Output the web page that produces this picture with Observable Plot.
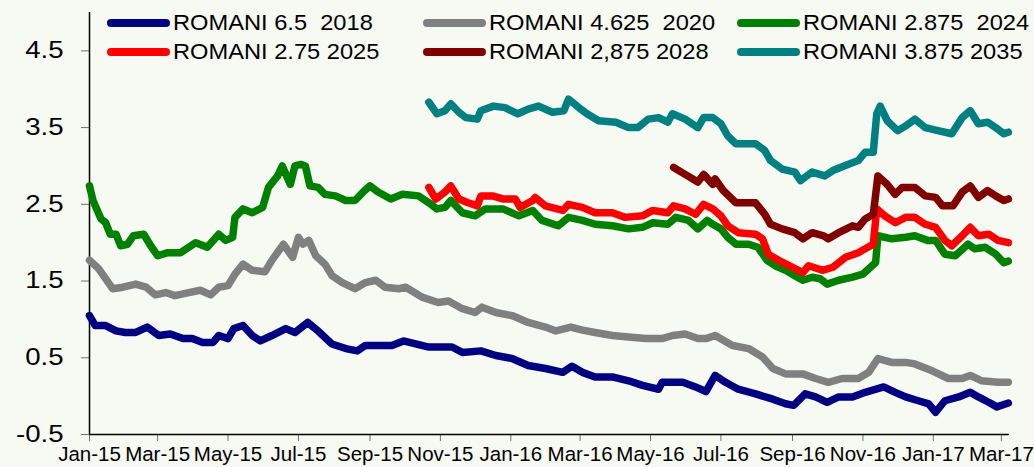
<!DOCTYPE html>
<html>
<head>
<meta charset="utf-8">
<script src="https://cdn.jsdelivr.net/npm/d3@7"></script>
<script src="https://cdn.jsdelivr.net/npm/@observablehq/plot@0.6"></script>
<style>
  html, body { margin: 0; padding: 0; background: #f7f9f3; }
  #wrap { position: relative; width: 1034px; height: 467px; font-family: "Liberation Sans", Arial, sans-serif; }
  #legend { position: absolute; left: 0; top: 0; width: 1034px; height: 70px; pointer-events: none; }
  .item { position: absolute; height: 28px; display: flex; align-items: center; }
  .sw { width: 63px; height: 8px; border-radius: 4px; }
  .lab { display: inline-block; margin-left: 3px; font-size: 21.5px; white-space: pre; color: #000;
         transform: scaleX(1.1); transform-origin: left center; }
</style>
</head>
<body>
<div id="wrap"><div id="legend"></div></div>
<script>
// ---- data ----
const seriesNames = ["ROMANI 6.5  2018", "ROMANI 4.625  2020", "ROMANI 2.875  2024",
                     "ROMANI 2.75 2025", "ROMANI 2,875 2028", "ROMANI 3.875 2035"];
const seriesColors = ["#000080", "#808080", "#008000", "#ff0000", "#800000", "#008080"];

const yTicks = [-0.5, 0.5, 1.5, 2.5, 3.5, 4.5];
const yDomain = [-0.5, 5];
const xDomain = ["2015-01-01", "2017-03-08"];
const xTicks = ["2015-01-01","2015-03-01","2015-05-01","2015-07-01","2015-09-01","2015-11-01",
                "2016-01-01","2016-03-01","2016-05-01","2016-07-01","2016-09-01","2016-11-01",
                "2017-01-01","2017-03-01"];

const ro2018 = [["2015-01-01",1.05],["2015-01-06",0.92],["2015-01-15",0.92],["2015-01-24",0.85],["2015-02-01",0.83],["2015-02-10",0.83],["2015-02-20",0.90],["2015-03-02",0.79],["2015-03-12",0.81],["2015-03-23",0.75],["2015-03-31",0.75],["2015-04-09",0.70],["2015-04-18",0.70],["2015-04-23",0.79],["2015-05-01",0.75],["2015-05-06",0.88],["2015-05-14",0.92],["2015-05-22",0.79],["2015-05-29",0.72],["2015-06-08",0.79],["2015-06-20",0.88],["2015-06-28",0.83],["2015-07-09",0.96],["2015-07-18",0.85],["2015-07-30",0.68],["2015-08-11",0.62],["2015-08-21",0.59],["2015-08-28",0.66],["2015-09-08",0.66],["2015-09-20",0.66],["2015-09-30",0.72],["2015-10-22",0.64],["2015-11-11",0.64],["2015-11-20",0.57],["2015-12-06",0.59],["2015-12-19",0.53],["2016-01-02",0.49],["2016-01-16",0.40],["2016-01-31",0.36],["2016-02-15",0.31],["2016-02-23",0.39],["2016-03-03",0.31],["2016-03-14",0.25],["2016-03-29",0.25],["2016-04-12",0.20],["2016-04-24",0.14],["2016-05-08",0.09],["2016-05-11",0.18],["2016-05-29",0.18],["2016-06-09",0.12],["2016-06-18",0.06],["2016-06-26",0.27],["2016-07-05",0.18],["2016-07-16",0.09],["2016-07-31",0.03],["2016-08-15",-0.04],["2016-08-26",-0.10],["2016-09-02",-0.12],["2016-09-12",0.03],["2016-09-21",-0.01],["2016-10-01",-0.08],["2016-10-11",-0.01],["2016-10-23",-0.01],["2016-11-03",0.05],["2016-11-19",0.12],["2016-11-29",0.05],["2016-12-08",-0.01],["2016-12-19",-0.06],["2016-12-28",-0.10],["2017-01-03",-0.21],["2017-01-11",-0.06],["2017-01-23",-0.01],["2017-02-02",0.05],["2017-02-09",-0.01],["2017-02-18",-0.08],["2017-02-25",-0.14],["2017-03-07",-0.09]];

const ro2020 = [["2015-01-01",1.77],["2015-01-09",1.66],["2015-01-21",1.40],["2015-01-30",1.42],["2015-02-10",1.46],["2015-02-19",1.42],["2015-02-27",1.32],["2015-03-08",1.35],["2015-03-16",1.31],["2015-03-28",1.35],["2015-04-07",1.38],["2015-04-16",1.32],["2015-04-23",1.42],["2015-05-01",1.44],["2015-05-07",1.59],["2015-05-14",1.72],["2015-05-22",1.64],["2015-06-02",1.62],["2015-06-08",1.77],["2015-06-18",1.98],["2015-06-26",1.81],["2015-07-01",2.07],["2015-07-05",1.98],["2015-07-10",2.03],["2015-07-16",1.83],["2015-07-24",1.72],["2015-07-30",1.57],["2015-08-08",1.48],["2015-08-19",1.40],["2015-08-28",1.48],["2015-09-06",1.51],["2015-09-14",1.42],["2015-09-26",1.40],["2015-10-02",1.42],["2015-10-16",1.29],["2015-10-30",1.22],["2015-11-08",1.24],["2015-11-20",1.14],["2015-12-01",1.09],["2015-12-07",1.16],["2015-12-19",1.09],["2016-01-02",1.05],["2016-01-16",0.96],["2016-01-31",0.90],["2016-02-09",0.85],["2016-02-22",0.90],["2016-03-03",0.86],["2016-03-14",0.83],["2016-03-29",0.79],["2016-04-12",0.77],["2016-04-27",0.75],["2016-05-11",0.75],["2016-05-20",0.79],["2016-05-31",0.81],["2016-06-11",0.75],["2016-06-18",0.75],["2016-06-26",0.79],["2016-07-11",0.66],["2016-07-25",0.62],["2016-08-06",0.51],["2016-08-15",0.36],["2016-08-26",0.29],["2016-09-10",0.29],["2016-09-21",0.23],["2016-10-02",0.18],["2016-10-14",0.23],["2016-10-28",0.23],["2016-11-06",0.31],["2016-11-14",0.49],["2016-11-26",0.44],["2016-12-08",0.44],["2016-12-16",0.42],["2016-12-31",0.33],["2017-01-14",0.23],["2017-01-26",0.23],["2017-02-02",0.27],["2017-02-12",0.20],["2017-02-26",0.18],["2017-03-07",0.18]];

const ro2024 = [["2015-01-01",2.74],["2015-01-04",2.55],["2015-01-11",2.31],["2015-01-15",2.26],["2015-01-19",2.11],["2015-01-24",2.11],["2015-01-28",1.96],["2015-02-03",1.98],["2015-02-08",2.09],["2015-02-17",2.11],["2015-02-23",1.96],["2015-03-01",1.83],["2015-03-10",1.87],["2015-03-21",1.87],["2015-04-03",2.00],["2015-04-13",1.94],["2015-04-23",2.11],["2015-04-29",2.03],["2015-05-05",2.07],["2015-05-07",2.33],["2015-05-14",2.44],["2015-05-22",2.39],["2015-05-31",2.46],["2015-06-05",2.72],["2015-06-13",2.87],["2015-06-17",3.00],["2015-06-24",2.76],["2015-06-28",3.00],["2015-07-03",3.02],["2015-07-07",3.00],["2015-07-11",2.74],["2015-07-18",2.72],["2015-07-24",2.63],["2015-08-02",2.61],["2015-08-11",2.55],["2015-08-19",2.55],["2015-08-26",2.66],["2015-09-01",2.74],["2015-09-08",2.66],["2015-09-19",2.57],["2015-09-29",2.63],["2015-10-13",2.61],["2015-10-22",2.52],["2015-10-29",2.44],["2015-11-05",2.46],["2015-11-10",2.55],["2015-11-20",2.39],["2015-12-01",2.35],["2015-12-10",2.44],["2015-12-25",2.44],["2016-01-08",2.35],["2016-01-20",2.42],["2016-01-28",2.29],["2016-02-11",2.22],["2016-02-20",2.33],["2016-03-03",2.29],["2016-03-14",2.24],["2016-03-29",2.22],["2016-04-12",2.18],["2016-04-24",2.20],["2016-05-03",2.26],["2016-05-16",2.24],["2016-05-23",2.33],["2016-06-03",2.29],["2016-06-11",2.18],["2016-06-19",2.29],["2016-06-24",2.24],["2016-07-01",2.18],["2016-07-07",2.07],["2016-07-14",1.98],["2016-07-25",1.98],["2016-08-02",1.94],["2016-08-10",1.77],["2016-08-17",1.70],["2016-08-26",1.64],["2016-09-03",1.57],["2016-09-10",1.51],["2016-09-18",1.55],["2016-09-25",1.53],["2016-10-01",1.46],["2016-10-11",1.51],["2016-10-23",1.55],["2016-11-01",1.59],["2016-11-09",1.70],["2016-11-12",1.74],["2016-11-14",2.09],["2016-11-26",2.05],["2016-12-08",2.07],["2016-12-16",2.09],["2016-12-27",2.03],["2017-01-03",2.03],["2017-01-11",1.85],["2017-01-20",1.83],["2017-01-31",1.98],["2017-02-06",1.92],["2017-02-15",1.94],["2017-02-24",1.85],["2017-03-03",1.74],["2017-03-07",1.76]];

const ro2025 = [["2015-10-22",2.72],["2015-10-28",2.57],["2015-11-05",2.66],["2015-11-10",2.74],["2015-11-17",2.57],["2015-11-25",2.52],["2015-12-03",2.48],["2015-12-06",2.61],["2015-12-16",2.61],["2015-12-25",2.57],["2016-01-05",2.57],["2016-01-09",2.46],["2016-01-20",2.55],["2016-01-22",2.59],["2016-01-31",2.48],["2016-02-15",2.42],["2016-02-20",2.50],["2016-03-03",2.46],["2016-03-14",2.39],["2016-03-29",2.39],["2016-04-09",2.33],["2016-04-24",2.35],["2016-05-03",2.42],["2016-05-16",2.39],["2016-05-21",2.48],["2016-05-31",2.44],["2016-06-09",2.37],["2016-06-16",2.50],["2016-06-24",2.44],["2016-07-01",2.35],["2016-07-07",2.22],["2016-07-16",2.13],["2016-07-31",2.11],["2016-08-06",2.05],["2016-08-11",1.85],["2016-08-20",1.77],["2016-09-01",1.68],["2016-09-10",1.61],["2016-09-15",1.70],["2016-09-27",1.64],["2016-10-06",1.68],["2016-10-17",1.81],["2016-10-28",1.87],["2016-11-03",1.92],["2016-11-10",1.98],["2016-11-13",2.44],["2016-11-20",2.35],["2016-11-29",2.26],["2016-12-08",2.33],["2016-12-16",2.33],["2016-12-25",2.24],["2017-01-03",2.20],["2017-01-11",2.03],["2017-01-17",1.96],["2017-01-26",2.09],["2017-02-02",2.20],["2017-02-09",2.09],["2017-02-18",2.11],["2017-02-26",2.03],["2017-03-07",2.00]];

const ro2028 = [["2016-05-21",2.98],["2016-05-31",2.89],["2016-06-11",2.79],["2016-06-16",2.89],["2016-06-24",2.76],["2016-06-26",2.83],["2016-07-03",2.68],["2016-07-14",2.52],["2016-07-31",2.52],["2016-08-08",2.37],["2016-08-13",2.24],["2016-08-23",2.18],["2016-09-03",2.13],["2016-09-10",2.05],["2016-09-18",2.13],["2016-09-28",2.09],["2016-10-02",2.05],["2016-10-11",2.13],["2016-10-23",2.22],["2016-10-28",2.20],["2016-11-03",2.31],["2016-11-10",2.37],["2016-11-14",2.87],["2016-11-22",2.76],["2016-11-29",2.63],["2016-12-05",2.72],["2016-12-16",2.72],["2016-12-25",2.61],["2017-01-03",2.59],["2017-01-09",2.48],["2017-01-18",2.48],["2017-01-26",2.66],["2017-02-02",2.74],["2017-02-09",2.59],["2017-02-17",2.68],["2017-02-24",2.61],["2017-03-03",2.55],["2017-03-07",2.57]];

const ro2035 = [["2015-10-22",3.83],["2015-10-29",3.68],["2015-11-05",3.72],["2015-11-10",3.81],["2015-11-17",3.70],["2015-11-23",3.63],["2015-12-03",3.61],["2015-12-06",3.72],["2015-12-17",3.78],["2015-12-27",3.76],["2016-01-07",3.68],["2016-01-16",3.74],["2016-01-25",3.78],["2016-02-06",3.70],["2016-02-16",3.72],["2016-02-20",3.87],["2016-02-29",3.76],["2016-03-07",3.68],["2016-03-17",3.59],["2016-04-01",3.57],["2016-04-12",3.50],["2016-04-20",3.50],["2016-04-29",3.61],["2016-05-08",3.63],["2016-05-16",3.57],["2016-05-20",3.68],["2016-05-31",3.61],["2016-06-11",3.50],["2016-06-16",3.63],["2016-06-24",3.63],["2016-07-01",3.55],["2016-07-07",3.39],["2016-07-14",3.29],["2016-07-31",3.29],["2016-08-08",3.20],["2016-08-13",3.07],["2016-08-23",2.96],["2016-09-03",2.92],["2016-09-08",2.81],["2016-09-18",2.92],["2016-09-29",2.87],["2016-10-06",2.94],["2016-10-19",3.02],["2016-10-28",3.07],["2016-11-03",3.18],["2016-11-10",3.18],["2016-11-13",3.68],["2016-11-16",3.78],["2016-11-22",3.59],["2016-12-01",3.46],["2016-12-08",3.52],["2016-12-16",3.61],["2016-12-25",3.50],["2017-01-05",3.46],["2017-01-17",3.42],["2017-01-26",3.63],["2017-02-02",3.72],["2017-02-09",3.55],["2017-02-17",3.57],["2017-02-24",3.50],["2017-03-03",3.42],["2017-03-07",3.44]];

const seriesData = [ro2018, ro2020, ro2024, ro2025, ro2028, ro2035];

// ---- build table ----
const rows = [];
seriesData.forEach((arr, i) => {
  arr.forEach(([d, v]) => rows.push({series: seriesNames[i], date: new Date(d + "T00:00:00Z"), value: v}));
});
const xd = xDomain.map(d => new Date(d + "T00:00:00Z"));

const chart = Plot.plot({
  width: 1034,
  height: 467,
  marginLeft: 89,
  marginRight: 25,
  marginTop: 12,
  marginBottom: 33,
  style: {background: "#f7f9f3", fontFamily: "'Liberation Sans', Arial, sans-serif", color: "#000", overflow: "visible"},
  x: {type: "utc", domain: xd},
  y: {domain: yDomain},
  color: {domain: seriesNames, range: seriesColors},
  marks: [
    Plot.axisY({ticks: yTicks, tickFormat: d => d.toFixed(1), tickSize: 8, tickPadding: 18,
                fontSize: 23, stroke: "#6e6e6e", label: null}),
    Plot.axisX({ticks: xTicks.map(d => new Date(d + "T00:00:00Z")), tickFormat: d3.utcFormat("%b-%y"),
                tickSize: 7, tickPadding: 5, fontSize: 20.5, stroke: "#6e6e6e", label: null}),
    Plot.ruleX([xd[0]], {stroke: "#000", strokeWidth: 1.5}),
    Plot.ruleY([yDomain[0]], {stroke: "#000", strokeWidth: 1.5}),
    Plot.line(rows, {x: "date", y: "value", z: "series", stroke: "series", strokeWidth: 7.5,
                     strokeLinejoin: "round", strokeLinecap: "round"})
  ]
});

// stretch y tick labels horizontally about their anchor (reference text is wider)
chart.querySelectorAll('g[aria-label="y-axis tick label"] text').forEach(t => {
  const x = +t.getAttribute("x") || 0;
  const tr = t.getAttribute("transform") || "";
  t.setAttribute("transform", `${tr} translate(${x},0) scale(1.2,1) translate(${-x},0)`);
});

document.getElementById("wrap").prepend(chart);

// ---- legend (HTML overlay) ----
const legendCols = [107, 423, 737];
const legendRows = [23, 52];
const legend = document.getElementById("legend");
seriesNames.forEach((name, i) => {
  const item = document.createElement("div");
  item.className = "item";
  item.style.left = legendCols[i % 3] + "px";
  item.style.top = (legendRows[Math.floor(i / 3)] - 14) + "px";
  const sw = document.createElement("div");
  sw.className = "sw";
  sw.style.background = seriesColors[i];
  const lab = document.createElement("span");
  lab.className = "lab";
  lab.textContent = name;
  item.append(sw, lab);
  legend.append(item);
});
</script>
</body>
</html>
